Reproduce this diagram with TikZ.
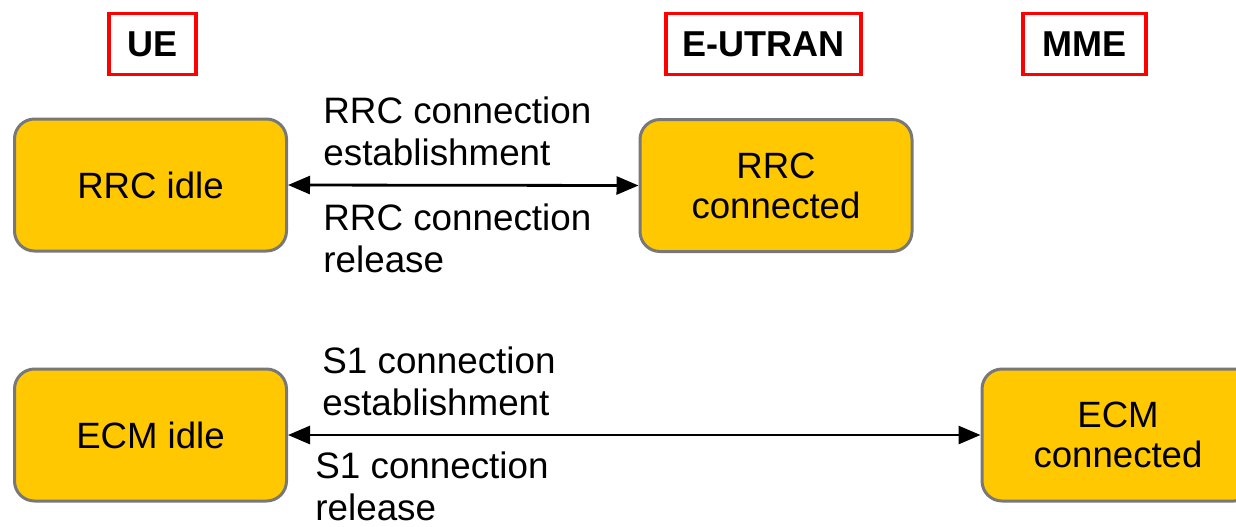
\documentclass[tikz,border=0pt]{standalone}
\usepackage{fontspec}
\setmainfont{Liberation Sans}
\usetikzlibrary{arrows.meta}
\definecolor{boxfill}{RGB}{255,200,0}
\definecolor{boxline}{RGB}{120,120,120}
\definecolor{hdrred}{RGB}{255,0,0}
\tikzset{
  statebox/.style={draw=boxline, line width=1.5pt, fill=boxfill, rounded corners=10pt,
    minimum width=136pt, minimum height=66pt, align=center, inner sep=0pt,
    font=\fontsize{18.3pt}{20pt}\selectfont},
  hdrbox/.style={draw=hdrred, line width=1.6pt, minimum height=30.5pt, inner sep=0pt,
    font=\fontsize{18pt}{20pt}\selectfont\bfseries},
  lbl/.style={anchor=base west, align=left, inner sep=0pt,
    font=\fontsize{18.4pt}{20.8pt}\selectfont},
  biarrow/.style={line width=1.4pt, {Triangle[length=11pt,width=9pt]}-{Triangle[length=11pt,width=9pt]}}
}
\begin{document}
\begin{tikzpicture}[x=0.5pt,y=-0.5pt]
\useasboundingbox (0,0) rectangle (1236,526);
% headers
\node[hdrbox, minimum width=43.5pt] (ue) at (152.5,44) {UE};
\node[hdrbox, minimum width=97.5pt] (eutran) at (763.5,44) {E-UTRAN};
\node[hdrbox, minimum width=61.5pt] (mme) at (1084.5,44) {MME};
% state boxes
\node[statebox] (rrcidle) at (150.5,185) {RRC idle};
\node[statebox] (rrcconn) at (776,185.5) {RRC\\connected};
\node[statebox] (ecmidle) at (150.5,435) {ECM idle};
\node[statebox] (ecmconn) at (1118,435) {ECM\\connected};
% arrows
\draw[biarrow] (rrcidle.east) -- (rrcconn.west);
\draw[biarrow] (ecmidle.east) -- (ecmconn.west);
% labels (anchor at baseline of last line)
\node[lbl] (rrcest) at (323,165) {RRC connection\\establishment};
\node[lbl] (rrcrel) at (323,272) {RRC connection\\release};
\node[lbl] (s1est) at (322,415) {S1 connection\\establishment};
\node[lbl] (s1rel) at (315,520) {S1 connection\\release};
\end{tikzpicture}
\end{document}
